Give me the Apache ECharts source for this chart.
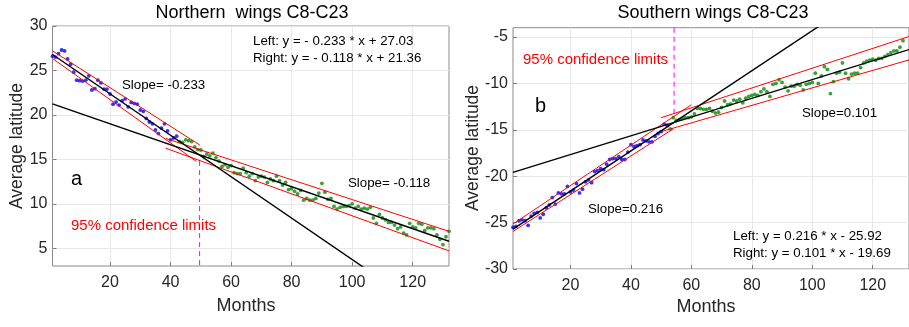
<!DOCTYPE html>
<html>
<head>
<meta charset="utf-8">
<script src="https://cdn.jsdelivr.net/npm/echarts@6.0.0/dist/echarts.min.js"></script>
<style>html,body{margin:0;padding:0;background:#fff;}#c{width:909px;height:327px;}</style>
</head>
<body>
<div id="c"></div>
<script>
// ---------- DATA ----------
// Northern wings: blue = months 1..42, green = months 43..132
const northBlue = [
  26.6, 26.5, 26.9, 27.3, 27.2, 26.3, 25.7, 24.8, 23.9, 23.85,
  23.8, 23.9, 24.4, 22.8, 22.95, 23.9, 23.6, 22.9, 22.9, 22.35,
  21.2, 21.45, 21.1, 21.6, 21.8, 20.9, 21.4, 21.3, 21.2, 20.55,
  20.4, 19.6, 19.2, 19.0, 18.3, 17.9, 18.5, 19.0, 18.2, 17.2,
  17.4, 17.6
];
const northGreen = [
  17.0, 16.9, 17.2, 17.1, 17.0, 16.4, 16.1, 16.05, 15.3, 15.6,
  15.4, 15.7, 15.2, 14.8, 14.2, 14.4, 14.1, 14.3, 13.5, 13.4,
  13.4, 14.0, 13.5, 13.1, 13.4, 12.6, 13.0, 13.1, 13.0, 12.4,
  12.8, 12.6, 13.1, 12.6, 12.1, 12.4, 11.6, 11.7, 11.4, 11.1,
  11.5, 10.4, 10.6, 10.4, 10.4, 10.6, 11.2, 12.3, 11.3, 10.5,
  10.6, 9.7, 9.4, 9.6, 9.7, 9.7, 9.8, 10.0, 9.5, 9.7,
  9.4, 9.5, 9.4, 9.6, 8.4, 7.8, 8.8, 8.4, 8.2, 7.9,
  7.9, 7.6, 7.2, 7.4, 6.7, 6.5, 7.8, 7.4, 7.3, 7.8,
  7.7, 7.0, 7.3, 7.3, 7.2, 6.5, 6.0, 5.4, 6.3, 6.9
];
const northGreenStart = 43;
// Southern wings: blue = months 1..52, green = months 53..130
const southBlue = [
  -25.5, -25.4, -24.8, -24.7, -24.8, -25.3, -24.3, -24.0, -23.9, -24.5,
  -24.1, -23.4, -23.1, -22.3, -23.0, -21.8, -21.9, -21.9, -21.1, -21.7,
  -21.5, -20.8, -21.8, -21.4, -20.6, -20.4, -20.7, -19.5, -19.4, -19.2,
  -19.3, -18.7, -18.2, -18.1, -18.1, -17.9, -18.2, -18.2, -17.4, -16.6,
  -16.8, -16.7, -16.6, -16.1, -16.2, -16.3, -16.3, -15.7, -15.4, -15.2,
  -14.4, -14.5
];
const southGreen = [
  -14.9, -13.7, -14.0, -13.9, -13.8, -13.7, -13.7, -13.6, -13.3, -12.7,
  -12.7, -12.8, -12.8, -12.7, -13.0, -13.2, -13.1, -12.6, -11.9, -12.3,
  -12.2, -11.8, -11.9, -11.7, -12.1, -11.6, -11.4, -11.3, -11.2, -11.3,
  -10.9, -10.6, -10.9, -11.4, -10.1, -10.0, -9.6, -9.9, -10.4, -10.8,
  -10.3, -10.3, -10.1, -10.2, -10.7, -10.1, -10.0, -9.9, -8.9, -10.0,
  -9.2, -8.2, -8.5, -11.1, -9.8, -8.9, -8.8, -7.8, -8.9, -9.5,
  -9.0, -8.9, -8.9, -8.3, -7.8, -7.6, -7.5, -7.4, -7.5, -7.3,
  -7.3, -7.1, -6.9, -6.7, -6.5, -6.5, -6.1, -5.4
];
const southGreenStart = 53;

// Fits (slope, intercept) as printed on the chart
const northFitLeft = [-0.233, 27.03];
const northFitRight = [-0.118, 21.36];
const southFitLeft = [0.216, -25.92];
const southFitRight = [0.101, -19.69];

// 95% confidence limit segments [[x1,y1],[x2,y2]]
const northBands = [
  [[1, 27.2], [49.7, 16.6]],
  [[1, 26.35], [48.6, 14.75]],
  [[38.4, 17.35], [132, 6.9]],
  [[38.4, 16.25], [132, 4.7]]
];
const southBands = [
  [[1, -25.15], [60, -12.3]],
  [[1, -25.95], [54, -14.9]],
  [[50, -13.7], [132, -4.95]],
  [[50, -15.2], [132, -7.47]]
];
// change-point dashed markers
const northChange = [[49.6, 14.8], [49.6, 3]];
const southChange = [[54.3, -4], [54.3, -13.7]];

const xTicks = [20, 40, 60, 80, 100, 120];
const northYTicks = [5, 10, 15, 20, 25, 30];
const southYTicks = [-30, -25, -20, -15, -10, -5];

// ---------- CHART ----------
const FONT = 'Liberation Sans, Arial, Helvetica, sans-serif';
const TXT = '#262626';
const toPts = (arr, start) => arr.map((v, i) => [start + i, v]);
const fitLine = (f) => [[1, f[0] * 1 + f[1]], [132, f[0] * 132 + f[1]]];

function xAxisCfg(gi) {
  return {
    type: 'value', gridIndex: gi, min: 1, max: 132,
    axisLine: { show: false },
    axisTick: { show: true, inside: true, length: 4, customValues: xTicks, lineStyle: { color: '#808080' } },
    axisLabel: { customValues: xTicks, color: TXT, fontSize: 16, fontFamily: FONT, margin: 9 },
    splitLine: { show: true, lineStyle: { color: '#e8e8e8', width: 1 } }
  };
}
function yAxisCfg(gi, min, max, ticks) {
  return {
    type: 'value', gridIndex: gi, min: min, max: max,
    axisLine: { show: false },
    axisTick: { show: true, inside: true, length: 4, customValues: ticks, lineStyle: { color: '#808080' } },
    axisLabel: { customValues: ticks, color: TXT, fontSize: 16, fontFamily: FONT, margin: 5 },
    splitLine: { show: true, lineStyle: { color: '#e8e8e8', width: 1 } }
  };
}
function lineSeries(xi, data, color, width, dashed) {
  return {
    type: 'line', xAxisIndex: xi, yAxisIndex: xi, data: data,
    symbol: 'none', silent: true, clip: true, animation: false,
    lineStyle: { color: color, width: width, type: dashed ? [5, 4] : 'solid' },
    z: dashed ? 4 : 3
  };
}
function scatter(xi, data, color) {
  return {
    type: 'scatter', xAxisIndex: xi, yAxisIndex: xi, data: data,
    symbol: 'circle', symbolSize: 3.8, itemStyle: { color: color }, animation: false, z: 2
  };
}
function txt(x, y, s, size, color, align, extra) {
  return Object.assign({
    type: 'text', x: x, y: y, silent: true, z: 10,
    style: { text: s, fontSize: size, fill: color || TXT, fontFamily: FONT,
             textAlign: align || 'left', textVerticalAlign: 'middle' }
  }, extra || {});
}

const series = [];
series.push(scatter(0, toPts(northBlue, 1), '#0000ff'));
series.push(scatter(0, toPts(northGreen, northGreenStart), '#0a8a0a'));
northBands.forEach(b => series.push(lineSeries(0, b, '#ff0000', 1)));
series.push(lineSeries(0, fitLine(northFitLeft), '#000000', 1.4));
series.push(lineSeries(0, fitLine(northFitRight), '#000000', 1.4));
series.push(lineSeries(0, northChange, '#ff00ff', 1, true));

series.push(scatter(1, toPts(southBlue, 1), '#0000ff'));
series.push(scatter(1, toPts(southGreen, southGreenStart), '#0a8a0a'));
southBands.forEach(b => series.push(lineSeries(1, b, '#ff0000', 1)));
series.push(lineSeries(1, fitLine(southFitLeft), '#000000', 1.4));
series.push(lineSeries(1, fitLine(southFitRight), '#000000', 1.4));
series.push(lineSeries(1, southChange, '#ff00ff', 1, true));

const chart = echarts.init(document.getElementById('c'), null, { renderer: 'canvas' });
chart.setOption({
  animation: false,
  backgroundColor: '#ffffff',
  grid: [
    { left: 52.5, top: 26, width: 396.5, height: 240, show: true, borderColor: '#8a8a8a', borderWidth: 1, backgroundColor: 'transparent' },
    { left: 513, top: 27.7, width: 400.5, height: 241.3, show: true, borderColor: '#8a8a8a', borderWidth: 1, backgroundColor: 'transparent' }
  ],
  xAxis: [xAxisCfg(0), xAxisCfg(1)],
  yAxis: [yAxisCfg(0, 3, 30, northYTicks), yAxisCfg(1, -30, -4, southYTicks)],
  series: series,
  graphic: [
    txt(252, 13, 'Northern  wings C8-C23', 18, '#000', 'center'),
    txt(713, 13, 'Southern wings C8-C23', 18, '#000', 'center'),
    txt(246, 306, 'Months', 18, TXT, 'center'),
    txt(706, 307, 'Months', 18, TXT, 'center'),
    txt(17, 146, 'Average latitude', 17.5, TXT, 'center', { rotation: Math.PI / 2 }),
    txt(473, 148, 'Average latitude', 17.5, TXT, 'center', { rotation: Math.PI / 2 }),
    txt(253, 41, 'Left: y = - 0.233 * x + 27.03', 13.3, '#000'),
    txt(253, 58, 'Right: y = - 0.118 * x + 21.36', 13.3, '#000'),
    txt(122, 85, 'Slope= -0.233', 13.3, '#000'),
    txt(348, 183, 'Slope= -0.118', 13.3, '#000'),
    txt(71, 179, 'a', 20, '#000'),
    txt(71, 226, '95% confidence limits', 15, '#ff0000'),
    txt(523, 60, '95% confidence limits', 15, '#ff0000'),
    txt(535, 106, 'b', 20, '#000'),
    txt(802, 113, 'Slope=0.101', 13.3, '#000'),
    txt(588, 209, 'Slope=0.216', 13.3, '#000'),
    txt(733, 236, 'Left: y = 0.216 * x - 25.92', 13.3, '#000'),
    txt(733, 253, 'Right: y = 0.101 * x - 19.69', 13.3, '#000')
  ]
});
</script>
</body>
</html>
